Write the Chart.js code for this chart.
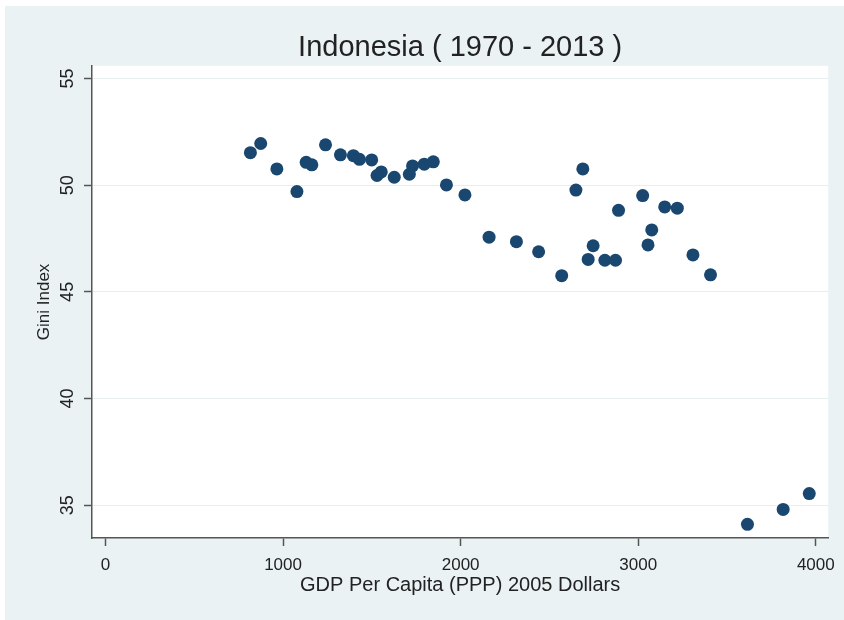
<!DOCTYPE html>
<html>
<head>
<meta charset="utf-8">
<script src="https://cdn.jsdelivr.net/npm/chart.js@4/dist/chart.umd.min.js"></script>
<style>
  html, body { margin: 0; padding: 0; background: #ffffff; }
  #wrap { position: absolute; left: 5px; top: 6px; width: 839px; height: 614px; background: #eaf2f3; }
  canvas { display: block; }
</style>
</head>
<body>
<div id="wrap"><canvas id="chart" width="839" height="614"></canvas></div>
<script>
// GDP per capita (PPP, 2005 $) and Gini index
const gdp = [816, 874, 965, 1078, 1130, 1162, 1239, 1323, 1396, 1430,
  1499, 1529, 1553, 1626, 1711, 1729, 1795, 1846, 1920, 2024,
  2160, 2314, 2439, 2569, 2649, 2688, 2718, 2746, 2812, 2872,
  2889, 3025, 3055, 3076, 3149, 3220, 3308, 3407, 3615, 3816, 3963];
const gini = [51.52, 51.95, 50.76, 49.70, 51.07, 50.95, 51.89, 51.42, 51.38, 51.21,
  51.18, 50.45, 50.62, 50.37, 50.51, 50.90, 50.98, 51.09, 50.01, 49.54,
  47.56, 47.35, 46.88, 45.76, 49.77, 50.76, 46.52, 47.16, 46.48, 46.48,
  48.82, 49.51, 47.20, 47.90, 48.98, 48.92, 46.73, 45.80, 34.11, 34.81, 35.55];
const xTicks = [0, 1000, 2000, 3000, 4000];
const yTicks = [35, 40, 45, 50, 55];

const fontFamily = "'Liberation Sans', Arial, sans-serif";
const textColor = "#222222";
const axisColor = "#555555";

// white plot region on the tinted panel
const plotBg = {
  id: "plotBg",
  beforeDraw(chart) {
    const a = chart.chartArea;
    const ctx = chart.ctx;
    ctx.save();
    ctx.fillStyle = "#ffffff";
    ctx.fillRect(a.left, a.top, a.right - a.left, a.bottom - a.top);
    ctx.restore();
  }
};

const points = gdp.map((x, i) => ({ x: x, y: gini[i] }));

new Chart(document.getElementById("chart"), {
  type: "scatter",
  data: {
    datasets: [{
      data: points,
      backgroundColor: "#1a476f",
      borderColor: "#1a476f",
      borderWidth: 0,
      pointRadius: 6.5,
      pointHoverRadius: 6.5
    }]
  },
  options: {
    responsive: false,
    animation: false,
    layout: { padding: { left: 0, right: 11, top: 0, bottom: 0 } },
    plugins: {
      legend: { display: false },
      tooltip: { enabled: false },
      title: {
        display: true,
        text: "Indonesia ( 1970 - 2013 )",
        fullSize: false,
        color: textColor,
        font: { family: fontFamily, size: 29, weight: "normal" },
        padding: { top: 25, bottom: 0 }
      }
    },
    scales: {
      x: {
        type: "linear",
        min: -76,
        max: 4070,
        afterBuildTicks: (s) => { s.ticks = xTicks.map(v => ({ value: v })); },
        afterFit: (s) => { s.height = 82; },
        grid: { drawOnChartArea: false, drawTicks: true, tickLength: 8, tickColor: axisColor, tickWidth: 1.5 },
        border: { display: true, color: axisColor, width: 1.5 },
        ticks: {
          color: textColor,
          padding: 9,
          maxRotation: 0,
          font: { family: fontFamily, size: 17 },
          callback: (v) => String(v)
        },
        title: {
          display: true,
          text: "GDP Per Capita (PPP) 2005 Dollars",
          color: textColor,
          font: { family: fontFamily, size: 20 },
          padding: { top: 0, bottom: 23 }
        }
      },
      y: {
        type: "linear",
        min: 33.47,
        max: 55.59,
        afterBuildTicks: (s) => { s.ticks = yTicks.map(v => ({ value: v })); },
        afterFit: (s) => { s.width = 87; },
        grid: { color: "#e6eef0", lineWidth: 1, drawTicks: true, tickLength: 8, tickColor: axisColor, tickWidth: 1.5 },
        border: { display: true, color: axisColor, width: 1.5 },
        ticks: {
          color: textColor,
          padding: 6,
          crossAlign: "center",
          minRotation: 90,
          maxRotation: 90,
          font: { family: fontFamily, size: 18 },
          callback: (v) => String(v)
        },
        title: {
          display: true,
          text: "Gini Index",
          color: textColor,
          font: { family: fontFamily, size: 17 },
          padding: { top: 29, bottom: 0 }
        }
      }
    }
  },
  plugins: [plotBg]
});
</script>
</body>
</html>
